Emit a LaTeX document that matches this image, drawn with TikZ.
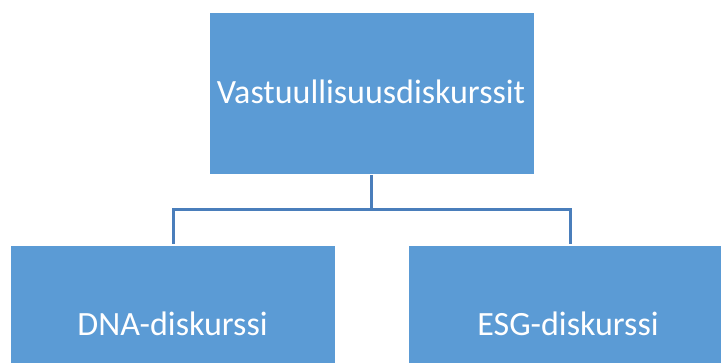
\documentclass[tikz,border=0pt]{standalone}
\usepackage{fontspec}
\setmainfont{Carlito}
\definecolor{boxblue}{HTML}{5B9BD5}
\definecolor{lineblue}{HTML}{4A7EBB}
\begin{document}
\begin{tikzpicture}[x=1pt,y=-1pt,
  boxstyle/.style={fill=boxblue,draw=white,line width=0.8pt},
  label/.style={text=white,font=\fontsize{34}{40}\selectfont,inner sep=0pt,anchor=base},
  conn/.style={draw=lineblue,line width=3pt}]
\useasboundingbox (0,0) rectangle (721,363);
\path[boxstyle] (209,12.5) rectangle (534,174);
\node[label] (top) at (371,104) {Vastuullisuusdiskurssit};
\coordinate (tb) at (371,175);
\path[boxstyle] (10,245.5) rectangle (335.5,375);
\node[label] (left) at (172.5,336) {DNA-diskurssi};
\coordinate (lt) at (173,244);
\path[boxstyle] (408,245.5) rectangle (733,375);
\node[label] (right) at (568,336) {ESG-diskurssi};
\coordinate (rt) at (570,244);
\coordinate (mid) at (371,210);
\draw[conn] (tb) -- (mid) -| (lt);
\draw[conn] (mid) -| (rt);
\end{tikzpicture}
\end{document}
